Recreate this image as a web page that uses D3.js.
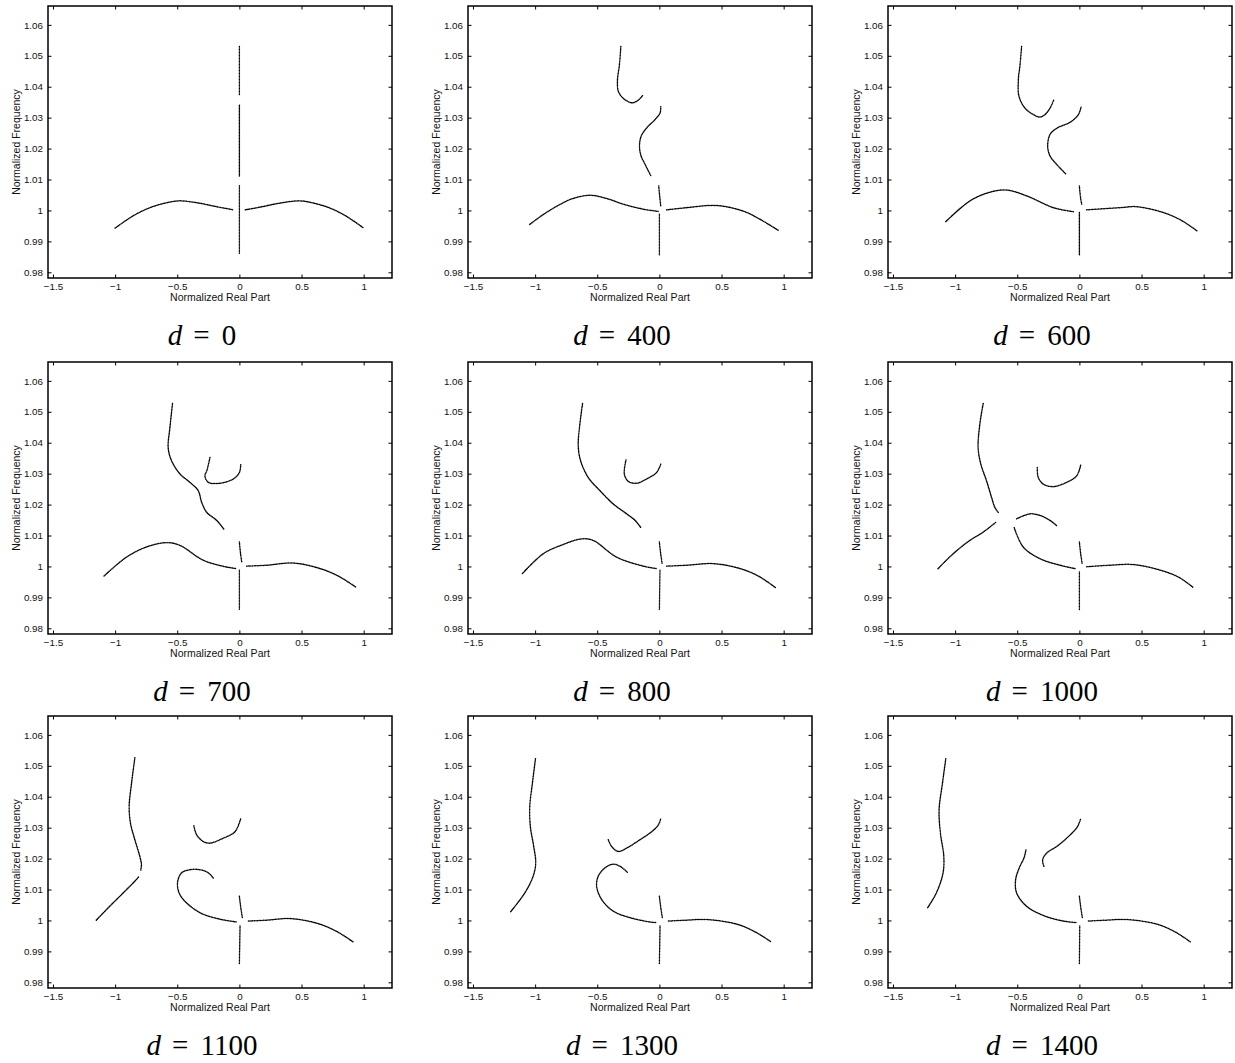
<!DOCTYPE html>
<html><head><meta charset="utf-8">
<script src="https://cdn.jsdelivr.net/npm/d3@7"></script>
<style>body{margin:0;background:#fff}</style></head>
<body>
<svg id="chart" width="1235" height="1063"></svg>
<script>
const dValues = [0, 400, 600, 700, 800, 1000, 1100, 1300, 1400];
const xTicks = [-1.5, -1, -0.5, 0, 0.5, 1];
const yTicks = [0.98, 0.99, 1.00, 1.01, 1.02, 1.03, 1.04, 1.05, 1.06];
const yTickLabels = ["0.98", "0.99", "1", "1.01", "1.02", "1.03", "1.04", "1.05", "1.06"];
const xLabel = "Normalized Real Part";
const yLabel = "Normalized Frequency";

const curvesD0 = [
  [[0,1.053],[0,1.037]],
  [[0,1.034],[0,1.011]],
  [[0,1.008],[0,0.986]],
  [[-1.0,0.9943],[-0.853,0.9983],[-0.72,1.0009],[-0.584,1.0025],[-0.48,1.0031],[-0.316,1.0023],[-0.182,1.0012],[-0.048,1.0002]],
  [[0.048,1.0002],[0.182,1.0012],[0.316,1.0023],[0.48,1.0031],[0.584,1.0025],[0.72,1.0009],[0.853,0.9983],[1.0,0.9943]]
];
const curvesD400 = [
  [[-0.310,1.053],[-0.322,1.047],[-0.337,1.0423],[-0.330,1.0385],[-0.289,1.0362],[-0.222,1.0348],[-0.175,1.0355],[-0.136,1.0371]],
  [[0.011,1.0335],[0.005,1.0315],[-0.035,1.0294],[-0.102,1.0267],[-0.147,1.024],[-0.160,1.0208],[-0.147,1.0176],[-0.115,1.0149],[-0.070,1.0113]],
  [[-0.005,1.0079],[0.004,1.004],[0.011,1.0015]],
  [[0,0.9988],[0,0.9856]],
  [[-1.043,0.9955],[-0.93,0.9988],[-0.797,1.002],[-0.70,1.0038],[-0.556,1.0049],[-0.42,1.0038],[-0.289,1.002],[-0.128,1.0004],[-0.01,0.9997]],
  [[0.059,1.0002],[0.219,1.0009],[0.46,1.0016],[0.674,0.9998],[0.807,0.9972],[0.955,0.9936]]
];
const curvesD600 = [
  [[-0.465,1.053],[-0.478,1.047],[-0.491,1.0423],[-0.486,1.0369],[-0.438,1.0331],[-0.371,1.031],[-0.317,1.0302],[-0.277,1.031],[-0.236,1.0331],[-0.204,1.036]],
  [[0.013,1.0334],[-0.008,1.031],[-0.075,1.0285],[-0.177,1.0267],[-0.236,1.0246],[-0.255,1.0208],[-0.236,1.0176],[-0.183,1.0149],[-0.107,1.0117]],
  [[0,1.0079],[0.01,1.004],[0.019,1.002]],
  [[0,0.9993],[0,0.9856]],
  [[-1.075,0.9964],[-0.88,1.0031],[-0.72,1.0059],[-0.585,1.0066],[-0.424,1.0047],[-0.209,1.0009],[-0.048,0.9996]],
  [[0.059,1.0002],[0.328,1.0009],[0.462,1.0012],[0.677,0.9993],[0.82,0.9968],[0.946,0.9934]]
];
const curvesD700 = [
  [[-0.538,1.0527],[-0.559,1.0449],[-0.573,1.0384],[-0.546,1.0342],[-0.478,1.0299],[-0.398,1.0272],[-0.331,1.0245],[-0.304,1.0208],[-0.263,1.0175],[-0.183,1.0149],[-0.124,1.012]],
  [[-0.237,1.0352],[-0.262,1.031],[-0.277,1.0293],[-0.25,1.0272],[-0.156,1.0269],[-0.048,1.0283],[0,1.0304],[0.011,1.0331]],
  [[0,1.0079],[0.01,1.004],[0.019,1.0015]],
  [[0,0.9988],[0,0.9859]],
  [[-1.089,0.9969],[-0.909,1.003],[-0.747,1.0063],[-0.586,1.0077],[-0.478,1.0068],[-0.290,1.002],[-0.102,0.9998],[-0.022,0.9993]],
  [[0.059,1.0001],[0.22,1.0004],[0.435,1.0011],[0.651,0.9993],[0.80,0.9968],[0.941,0.9932]]
];
const curvesD800 = [
  [[-0.618,1.0527],[-0.640,1.046],[-0.653,1.039],[-0.634,1.0342],[-0.573,1.0288],[-0.478,1.0245],[-0.371,1.0202],[-0.263,1.017],[-0.196,1.0149],[-0.148,1.0125]],
  [[-0.269,1.0344],[-0.282,1.0299],[-0.25,1.0275],[-0.183,1.0269],[-0.102,1.0283],[-0.022,1.0304],[0.011,1.0331]],
  [[0,1.0079],[0.011,1.004],[0.022,1.001]],
  [[0.005,0.9988],[0,0.9859]],
  [[-1.102,0.9977],[-0.935,1.0041],[-0.774,1.0071],[-0.626,1.0089],[-0.532,1.0084],[-0.344,1.003],[-0.129,1.0001],[-0.022,0.9993]],
  [[0.059,1.0001],[0.22,1.0004],[0.435,1.0009],[0.651,0.9993],[0.80,0.9968],[0.933,0.9932]]
];
const curvesD1000 = [
  [[-0.774,1.0527],[-0.801,1.046],[-0.815,1.0384],[-0.793,1.0331],[-0.747,1.0277],[-0.707,1.0224],[-0.68,1.0191],[-0.653,1.0175]],
  [[-1.137,0.9993],[-1.016,1.0041],[-0.882,1.0084],[-0.774,1.0111],[-0.672,1.0143]],
  [[-0.505,1.0154],[-0.398,1.017],[-0.317,1.0165],[-0.237,1.0149],[-0.183,1.0132]],
  [[-0.524,1.0125],[-0.452,1.0063],[-0.317,1.0025],[-0.156,1.0004],[-0.035,0.9993]],
  [[-0.339,1.032],[-0.331,1.0288],[-0.29,1.0266],[-0.21,1.0258],[-0.102,1.0272],[-0.022,1.0293],[0.011,1.0329]],
  [[0,1.0079],[0.011,1.004],[0.022,1.001]],
  [[0,0.9982],[0,0.9859]],
  [[0.059,0.9999],[0.247,1.0004],[0.435,1.0006],[0.651,0.9988],[0.80,0.9965],[0.919,0.9931]]
];
const curvesD1100 = [
  [[-0.841,1.0526],[-0.868,1.0443],[-0.887,1.0368],[-0.876,1.0314],[-0.841,1.0261],[-0.801,1.0207],[-0.788,1.018],[-0.796,1.0159]],
  [[-1.151,1.0001],[-1.043,1.0046],[-0.935,1.0089],[-0.841,1.0127],[-0.806,1.0143]],
  [[-0.21,1.0137],[-0.25,1.0154],[-0.317,1.0164],[-0.398,1.0164],[-0.465,1.0154],[-0.497,1.0125],[-0.49,1.0095],[-0.452,1.0068],[-0.317,1.0025],[-0.156,1.0004],[-0.022,0.9995]],
  [[-0.366,1.0306],[-0.344,1.0277],[-0.29,1.0255],[-0.237,1.025],[-0.129,1.0266],[-0.035,1.0287],[0.011,1.033]],
  [[0,1.0078],[0.012,1.004],[0.024,1.0009]],
  [[0.005,0.9982],[0,0.9859]],
  [[0.073,0.9998],[0.22,1.0001],[0.409,1.0006],[0.624,0.9991],[0.78,0.9965],[0.914,0.9931]]
];
const curvesD1300 = [
  [[-0.997,1.0523],[-1.022,1.0443],[-1.043,1.0368],[-1.038,1.0303],[-1.011,1.0239],[-0.995,1.0186],[-1.016,1.0143],[-1.083,1.0089],[-1.199,1.0027]],
  [[-0.258,1.0156],[-0.317,1.0175],[-0.371,1.0182],[-0.438,1.017],[-0.492,1.0143],[-0.505,1.0111],[-0.465,1.0068],[-0.371,1.003],[-0.237,1.0009],[-0.075,0.9995],[-0.022,0.9993]],
  [[-0.411,1.0261],[-0.384,1.0239],[-0.331,1.0223],[-0.263,1.0234],[-0.156,1.0261],[-0.062,1.0287],[-0.008,1.0309],[0.011,1.033]],
  [[0,1.0078],[0.012,1.004],[0.024,1.0009]],
  [[0.005,0.9982],[0,0.9859]],
  [[0.073,0.9998],[0.22,1.0001],[0.382,1.0003],[0.624,0.9988],[0.77,0.9963],[0.898,0.9931]]
];
const curvesD1400 = [
  [[-1.075,1.0523],[-1.102,1.0443],[-1.129,1.0357],[-1.118,1.0282],[-1.091,1.0207],[-1.097,1.0154],[-1.151,1.0089],[-1.226,1.0038]],
  [[-0.43,1.0228],[-0.446,1.0202],[-0.484,1.017],[-0.513,1.0132],[-0.505,1.0089],[-0.425,1.0046],[-0.29,1.0016],[-0.129,0.9998],[-0.022,0.9993]],
  [[-0.285,1.0175],[-0.296,1.0196],[-0.263,1.0218],[-0.183,1.0239],[-0.089,1.0271],[-0.016,1.0303],[0.011,1.033]],
  [[0,1.0078],[0.012,1.004],[0.024,1.0009]],
  [[0.003,0.9982],[0,0.9859]],
  [[0.073,0.9998],[0.22,1.0001],[0.382,1.0003],[0.624,0.9988],[0.77,0.9963],[0.892,0.9931]]
];

const panelCurves = [curvesD0, curvesD400, curvesD600, curvesD700, curvesD800, curvesD1000, curvesD1100, curvesD1300, curvesD1400];

const W = 344, H = 272;
const colX = [48, 468, 888], rowY = [6, 362, 716];
const x = d3.scaleLinear().domain([-1.54, 1.228]).range([0, W]);
const y = d3.scaleLinear().domain([0.97816, 1.0661]).range([H, 0]);
const line = d3.line().x(d => x(d[0])).y(d => y(d[1])).curve(d3.curveCatmullRom.alpha(0.5));
const fmtX = d => d < 0 ? "\u2212" + Math.abs(d) : String(d);
const sans = "Liberation Sans, Arial, Helvetica, sans-serif";

const svg = d3.select("#chart");

dValues.forEach((dv, i) => {
  const g = svg.append("g").attr("transform", `translate(${colX[i % 3]},${rowY[Math.floor(i / 3)]})`);

  const ax = (sel) => { sel.select(".domain").remove(); sel.selectAll("line").attr("stroke", "#000").attr("stroke-width", 1); sel.selectAll("text").attr("fill", "#111"); };

  g.append("g").attr("transform", `translate(0,${H})`)
    .call(d3.axisBottom(x).tickValues(xTicks).tickSize(-3.5).tickPadding(5).tickFormat(fmtX))
    .call(ax).selectAll("text").attr("font-family", sans).attr("font-size", 9.8);
  g.append("g")
    .call(d3.axisTop(x).tickValues(xTicks).tickSize(-3.5).tickFormat(""))
    .call(ax);
  g.append("g")
    .call(d3.axisLeft(y).tickValues(yTicks).tickSize(-3.5).tickPadding(5).tickFormat((d, k) => yTickLabels[k]))
    .call(ax).selectAll("text").attr("font-family", sans).attr("font-size", 9.8);
  g.append("g").attr("transform", `translate(${W},0)`)
    .call(d3.axisRight(y).tickValues(yTicks).tickSize(-3.5).tickFormat(""))
    .call(ax);

  g.append("rect").attr("width", W).attr("height", H)
    .attr("fill", "none").attr("stroke", "#000").attr("stroke-width", 1.5);

  g.append("text").attr("x", W / 2).attr("y", H + 23)
    .attr("text-anchor", "middle").attr("font-family", sans)
    .attr("font-size", 10.5).attr("fill", "#111").text(xLabel);
  g.append("text").attr("transform", `translate(-28.5,${H / 2}) rotate(-90)`)
    .attr("text-anchor", "middle").attr("font-family", sans)
    .attr("font-size", 10.5).attr("fill", "#111").text(yLabel);

  const t = g.append("text").attr("x", W / 2 - 18).attr("y", H + 67)
    .attr("text-anchor", "middle").attr("font-family", "Liberation Serif, serif")
    .attr("font-size", 29).attr("fill", "#000");
  t.append("tspan").attr("font-style", "italic").text("d");
  t.append("tspan").attr("dx", 11).text("=");
  t.append("tspan").attr("dx", 12).text(String(dv));

  g.append("g").selectAll("path").data(panelCurves[i]).join("path")
    .attr("d", line)
    .attr("fill", "none").attr("stroke", "#000")
    .attr("stroke-width", 1.5).attr("stroke-linecap", "round")
    .attr("stroke-dasharray", "0.1 1.4");
});
</script>
</body></html>
